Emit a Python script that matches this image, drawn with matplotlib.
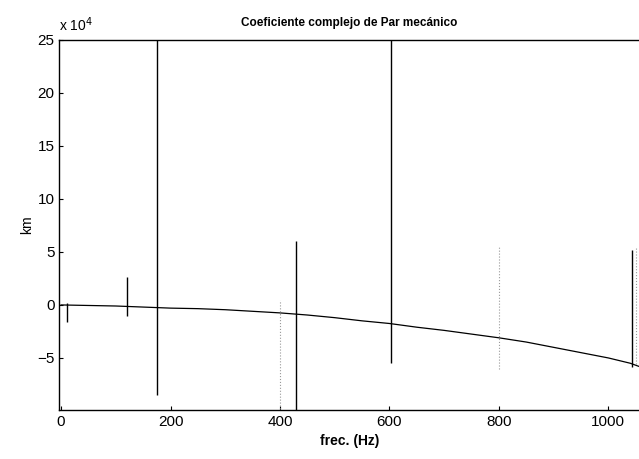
import matplotlib
matplotlib.use("Agg")
import matplotlib.pyplot as plt

# curva principal (km en unidades de 1e4)
frec = [0, 50, 100, 150, 200, 250, 300, 350, 400, 450, 500, 550, 600,
        650, 700, 750, 800, 850, 900, 950, 1000, 1040, 1056]
km = [0.0, -0.05, -0.1, -0.2, -0.3, -0.35, -0.45, -0.6, -0.75, -0.95, -1.2,
      -1.5, -1.75, -2.1, -2.4, -2.75, -3.1, -3.5, -4.0, -4.5, -5.0, -5.5, -5.8]

# resonancias (picos verticales)
pico_frec = [10, 120, 175, 430, 603, 1043]
pico_min = [-1.6, -1.0, -8.5, -9.9, -5.5, -5.9]
pico_max = [0.2, 2.6, 25.0, 6.0, 25.0, 5.2]

# lineas tenues
tenue_frec = [400, 800, 1051]
tenue_min = [-9.8, -6.0, -5.6]
tenue_max = [0.5, 5.5, 5.5]

plt.rcParams['font.family'] = ['Liberation Sans', 'DejaVu Sans']

fig = plt.figure(figsize=(6.39, 4.59), dpi=100)
ax = fig.add_axes([0.093, 0.107, 0.907, 0.806])

ax.plot(frec, km, color='black', linewidth=0.9)
ax.vlines(pico_frec, pico_min, pico_max, colors='black', linewidth=1.0)
ax.vlines(tenue_frec, tenue_min, tenue_max, colors='0.6', linewidth=0.8,
          linestyles=':')

ax.set_xlim(-3, 1056)
ax.set_ylim(-9.9, 25)
ax.set_xticks([0, 200, 400, 600, 800, 1000])
ax.set_yticks([-5, 0, 5, 10, 15, 20, 25])
ax.tick_params(direction='in', length=3, labelsize=11, width=0.8)
ax.spines['right'].set_visible(False)
for s in ['left', 'bottom', 'top']:
    ax.spines[s].set_linewidth(1.0)

ax.set_title('Coeficiente complejo de Par mecánico', fontsize=8.5,
             fontweight='bold', pad=10)
ax.set_xlabel('frec. (Hz)', fontsize=10, fontweight='bold', labelpad=4)
ax.set_ylabel('km', fontsize=10, labelpad=2)
ax.text(0.0, 1.015, r'x 10$^4$', transform=ax.transAxes, fontsize=10,
        ha='left', va='bottom')

fig.savefig('out.png', dpi=100)
